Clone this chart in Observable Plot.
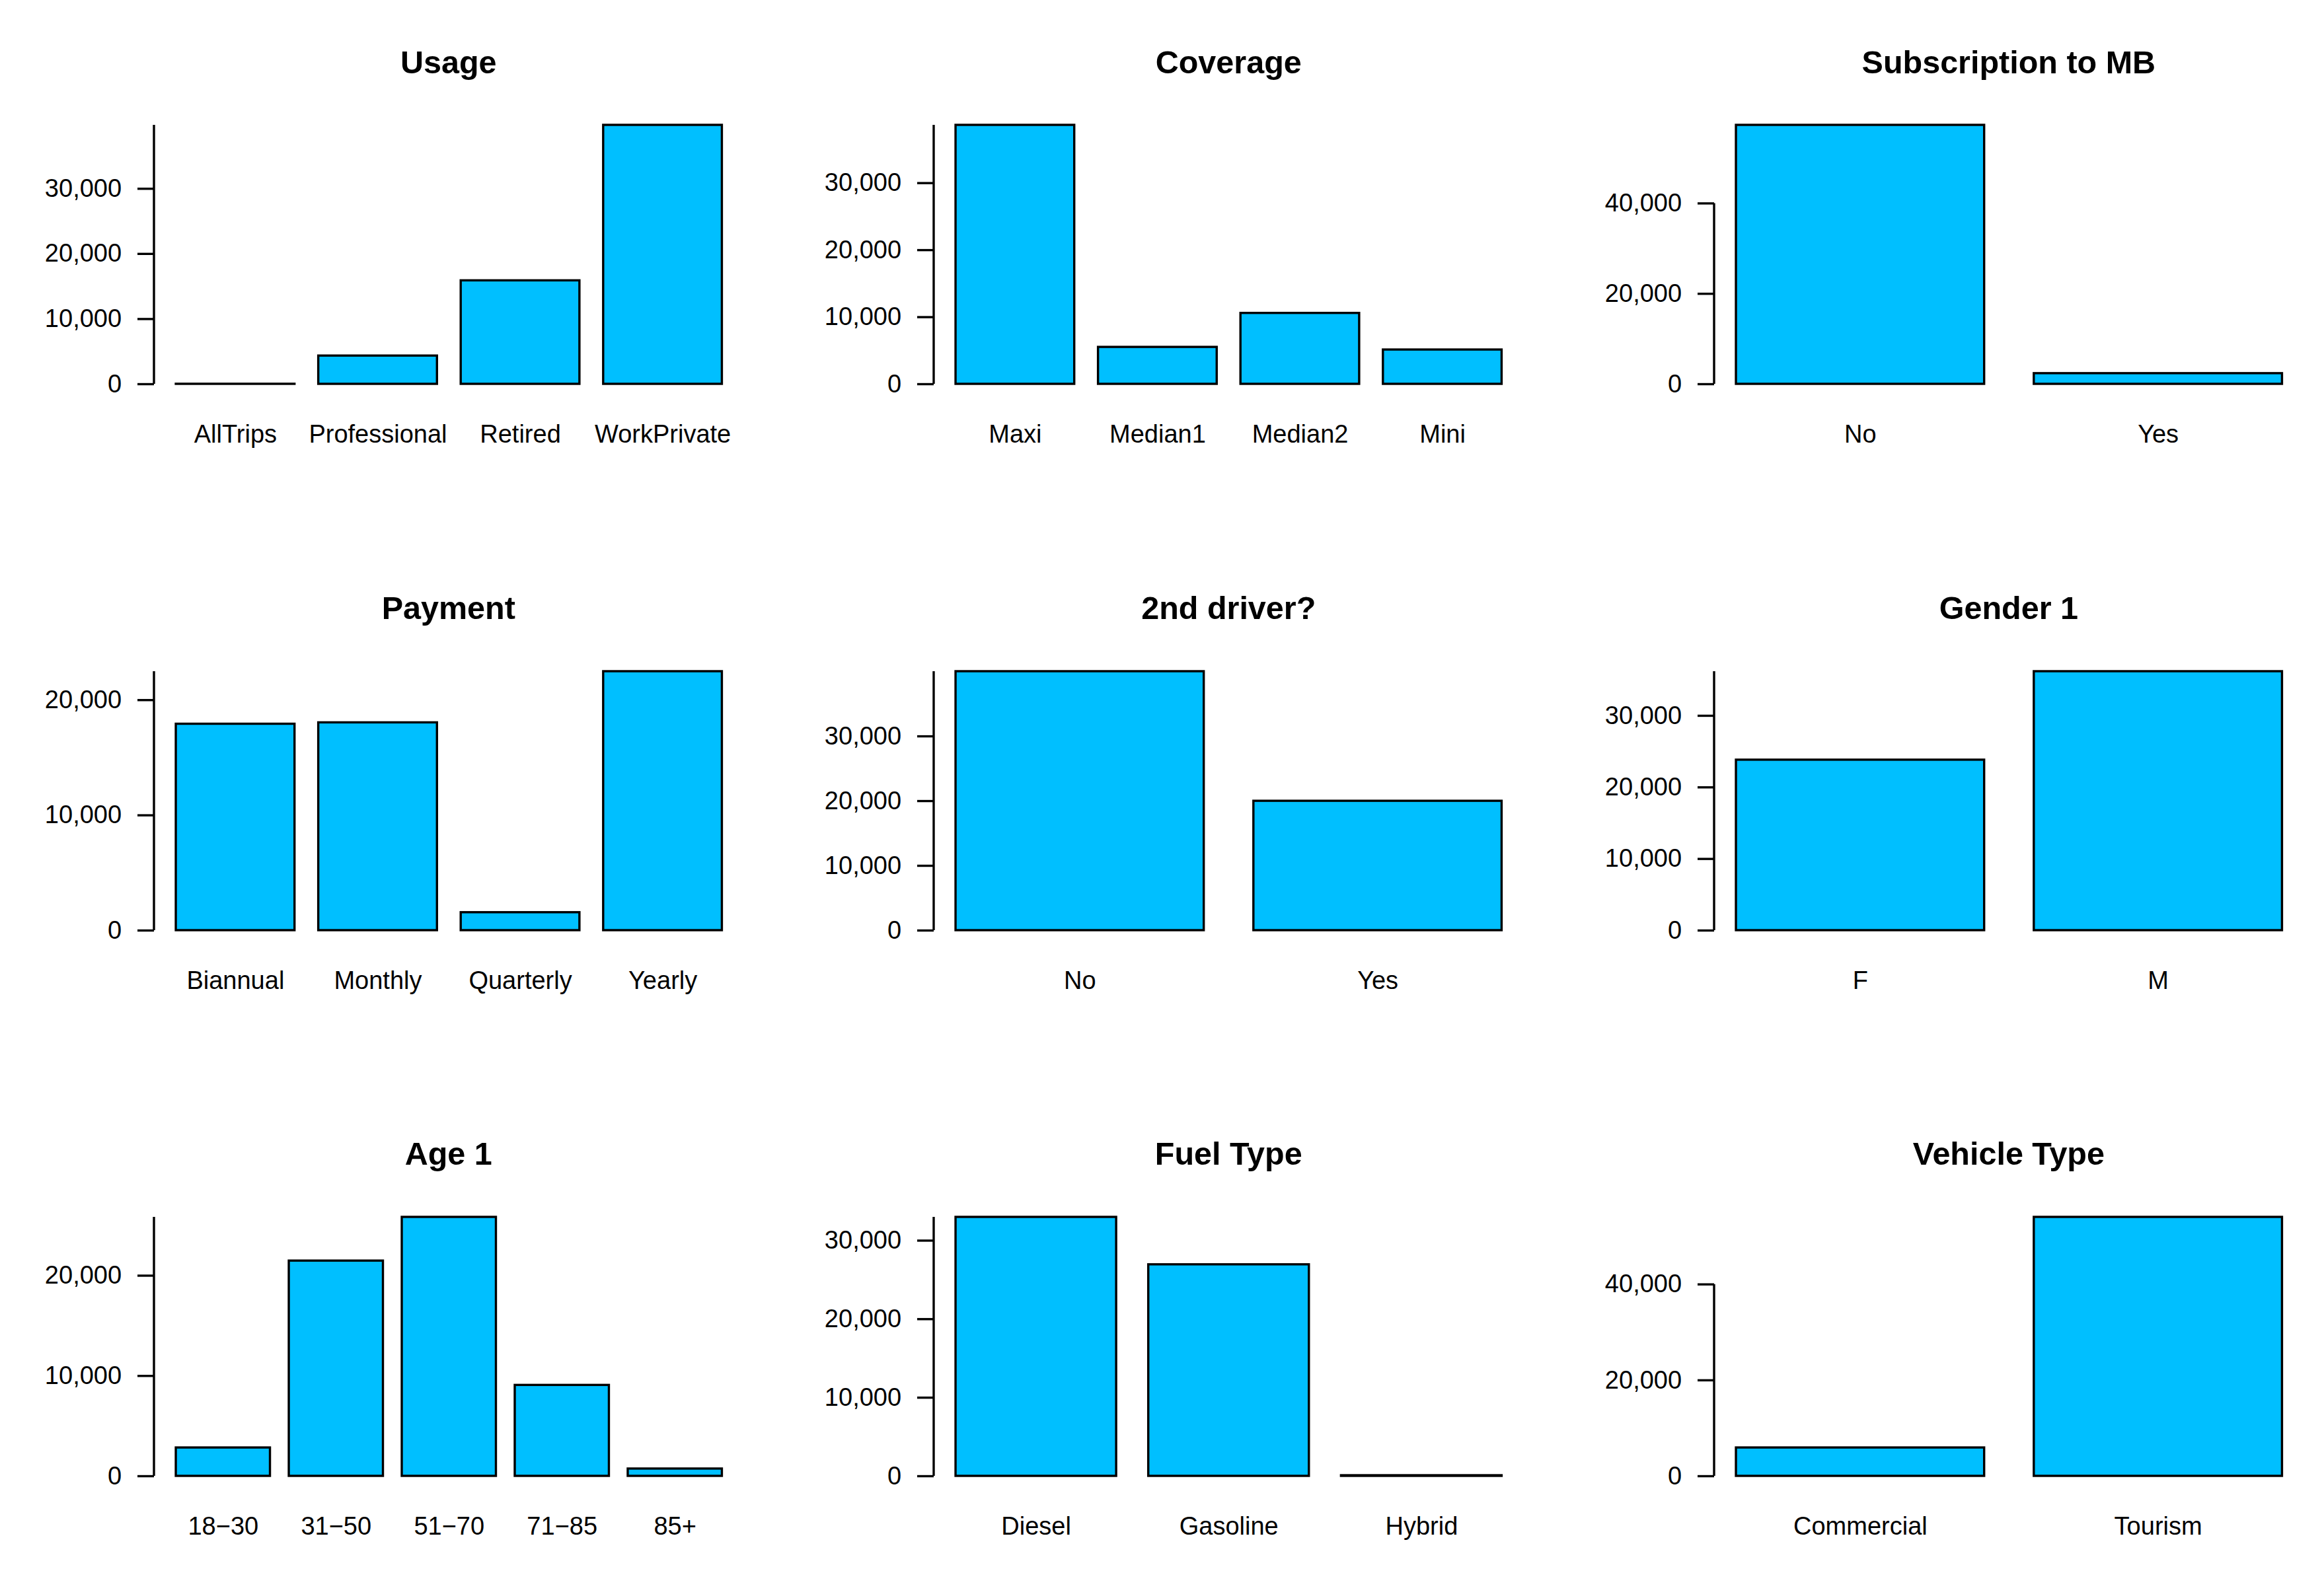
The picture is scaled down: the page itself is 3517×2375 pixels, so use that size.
<!DOCTYPE html>
<html><head><meta charset="utf-8">
<script src="https://cdn.jsdelivr.net/npm/d3@7"></script>
<script src="https://cdn.jsdelivr.net/npm/@observablehq/plot@0.6"></script>
<style>
html,body{margin:0;padding:0;background:#fff;}
#root{position:relative;width:3517px;height:2375px;background:#fff;overflow:hidden;font-family:"Liberation Sans",Arial,Helvetica,sans-serif;}
.title{position:absolute;text-align:center;font-weight:bold;font-size:48.5px;line-height:48.5px;white-space:nowrap;color:#000;}
.panel{position:absolute;}
</style></head><body><div id="root"></div>
<script>
// ---- data ----
const titles = ["Usage", "Coverage", "Subscription to MB", "Payment", "2nd driver?", "Gender 1", "Age 1", "Fuel Type", "Vehicle Type"];

const usageCats = ["AllTrips", "Professional", "Retired", "WorkPrivate"];
const usageVals = [10, 4340, 15890, 39760];

const coverageCats = ["Maxi", "Median1", "Median2", "Mini"];
const coverageVals = [38640, 5510, 10580, 5120];

const subscriptionCats = ["No", "Yes"];
const subscriptionVals = [57310, 2360];

const paymentCats = ["Biannual", "Monthly", "Quarterly", "Yearly"];
const paymentVals = [17920, 18040, 1560, 22480];

const driver2Cats = ["No", "Yes"];
const driver2Vals = [40010, 19990];

const genderCats = ["F", "M"];
const genderVals = [23820, 36180];

const ageCats = ["18\u221230", "31\u221250", "51\u221270", "71\u221285", "85+"];
const ageVals = [2830, 21470, 25830, 9070, 730];

const fuelCats = ["Diesel", "Gasoline", "Hybrid"];
const fuelVals = [32980, 26940, 80];

const vehicleCats = ["Commercial", "Tourism"];
const vehicleVals = [5920, 54010];

// y tick labels per panel
const ticks10k3 = [0, 10000, 20000, 30000];
const ticks10k2 = [0, 10000, 20000];
const ticks20k = [0, 20000, 40000];
const panelTicks = [ticks10k3, ticks10k3, ticks20k, ticks10k2, ticks10k3, ticks10k3, ticks10k2, ticks10k3, ticks20k];
// extent of the drawn y-axis line (data units)
const axisEnds = [39760, 38640, 40000, 22480, 40010, 36180, 25830, 32980, 40000];

const panelCats = [usageCats, coverageCats, subscriptionCats, paymentCats, driver2Cats, genderCats, ageCats, fuelCats, vehicleCats];
const panelVals = [usageVals, coverageVals, subscriptionVals, paymentVals, driver2Vals, genderVals, ageVals, fuelVals, vehicleVals];

// ---- layout ----
const plotLefts = [232.5, 1413, 2593.6];
const plotTops = [189.3, 1015.5, 1841.7];
const plotW = 892.5, plotH = 392;
const mL = 235, mR = 30, mT = 10, mB = 120;
const FONT = 38;
const LW = 3.4;
const fill = "#00BFFF";

const root = document.getElementById("root");

function axisLine(top) {
  return (index, scales, values, dims) => {
    const l = document.createElementNS("http://www.w3.org/2000/svg", "line");
    const x = dims.marginLeft;
    l.setAttribute("x1", x); l.setAttribute("x2", x);
    l.setAttribute("y1", scales.y(0)); l.setAttribute("y2", scales.y(top));
    l.setAttribute("stroke", "black"); l.setAttribute("stroke-width", LW);
    return l;
  };
}

for (let i = 0; i < 9; i++) {
  const r = Math.floor(i / 3), c = i % 3;
  const cats = panelCats[i], vals = panelVals[i];
  const n = cats.length;
  const data = cats.map((k, j) => ({cat: k, value: vals[j]}));
  const chart = Plot.plot({
    width: mL + plotW + mR,
    height: mT + plotH + mB,
    marginLeft: mL, marginRight: mR, marginTop: mT, marginBottom: mB,
    style: {fontFamily: '"Liberation Sans", Arial, Helvetica, sans-serif', fontSize: FONT + "px", background: "white", color: "black", overflow: "visible"},
    x: {domain: cats, paddingInner: 1 / 6, paddingOuter: 0.04 * (1.2 * n - 0.2) / 1.2, round: false, align: 0.5},
    y: {domain: [0, d3.max(vals)]},
    marks: [
      Plot.barY(data, {x: "cat", y: "value", fill: fill, stroke: "black", strokeWidth: LW}),
      axisLine(axisEnds[i]),
      Plot.axisY(panelTicks[i], {tickFormat: d3.format(","), tickSize: 25, tickPadding: 24.4, fontSize: FONT, strokeWidth: LW, label: null}),
      Plot.axisX({tickSize: 0, tickPadding: 62, fontSize: FONT, label: null})
    ]
  });
  const wrap = document.createElement("div");
  wrap.className = "panel";
  wrap.style.left = (plotLefts[c] - mL) + "px";
  wrap.style.top = (plotTops[r] - mT) + "px";
  wrap.appendChild(chart);
  root.appendChild(wrap);

  const t = document.createElement("div");
  t.className = "title";
  t.textContent = titles[i];
  t.style.left = plotLefts[c] + "px";
  t.style.width = plotW + "px";
  t.style.top = (plotTops[r] - 78.5 - 41.05) + "px";
  root.appendChild(t);
}
</script>
</body></html>
